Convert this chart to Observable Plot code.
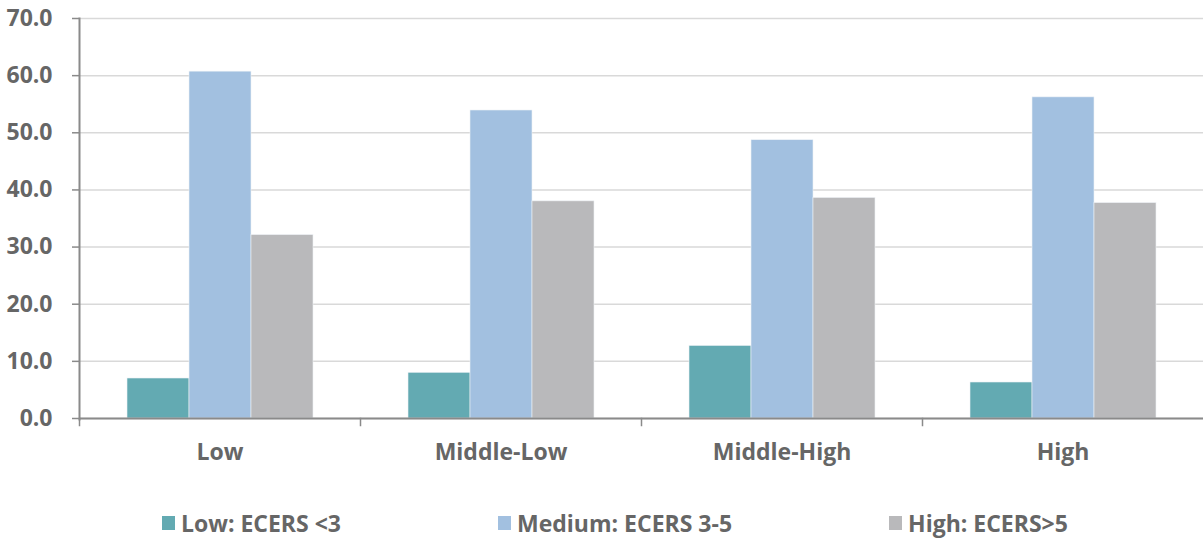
<!DOCTYPE html>
<html>
<head>
<meta charset="utf-8">
<script src="https://cdn.jsdelivr.net/npm/d3@7"></script>
<script src="https://cdn.jsdelivr.net/npm/@observablehq/plot@0.6"></script>
<style>
  html, body { margin: 0; padding: 0; background: #fff; }
  #chart { width: 1204px; }
  .legend { display: flex; gap: 157px; padding-left: 162px; height: 54px; align-items: center; padding-top: 24px; box-sizing: border-box;
            font-family: "Open Sans", Lato, sans-serif; font-weight: 700; font-size: 23px; color: #666666; }
  .legend .item { display: flex; align-items: center; white-space: nowrap; }
  .legend .sw { width: 13px; height: 14px; margin-right: 6px; display: inline-block; }
</style>
</head>
<body>
<div id="chart"></div>
<script>
const categories = ["Low", "Middle-Low", "Middle-High", "High"];
const seriesNames = ["Low: ECERS <3", "Medium: ECERS 3-5", "High: ECERS>5"];
const seriesColors = ["#63aab2", "#a2c0e0", "#b9b9bb"];
const lowValues = [7.0, 8.0, 12.7, 6.3];
const mediumValues = [60.7, 53.9, 48.7, 56.2];
const highValues = [32.1, 38.0, 38.6, 37.7];
const yTicks = [0, 10, 20, 30, 40, 50, 60, 70];

const seriesValues = [lowValues, mediumValues, highValues];
const data = [];
categories.forEach((c, i) => {
  seriesNames.forEach((s, j) => data.push({category: c, series: s, value: seriesValues[j][i]}));
});

const font = "'Open Sans', Lato, sans-serif";
const plot = Plot.plot({
  width: 1204,
  height: 484,
  marginLeft: 77,
  marginRight: 0,
  marginTop: 18,
  marginBottom: 66,
  style: {fontFamily: font, fontWeight: 700, color: "#666666", background: "#fff"},
  fx: {domain: categories, padding: 0, label: null},
  x: {domain: seriesNames, paddingInner: 0, paddingOuter: 0.75, axis: null},
  y: {domain: [0, 70], ticks: yTicks, label: null},
  color: {domain: seriesNames, range: seriesColors},
  marks: [
    Plot.gridY(yTicks, {stroke: "#d9d9d9", strokeOpacity: 1, strokeWidth: 1.5}),
    Plot.barY(data, {fx: "category", x: "series", y: "value", fill: "series", stroke: "#eef2f6", strokeWidth: 0.6}),
    Plot.ruleY([0], {stroke: "#8a8a8a", strokeWidth: 2}),
    Plot.frame({anchor: "left", facetAnchor: "left", stroke: "#8a8a8a", strokeWidth: 2, insetBottom: -1}),
    Plot.frame({anchor: "left", stroke: "#8a8a8a", strokeWidth: 1.5, insetTop: 400, insetBottom: -7}),
    Plot.axisY(yTicks, {anchor: "left", tickFormat: d3.format(".1f"), tickSize: 7, tickPadding: 20,
      fontSize: 23, stroke: "#8a8a8a", strokeWidth: 1.5, fill: "#666666"}),
    Plot.axisFx({anchor: "bottom", tickSize: 0, tickPadding: 25, fontSize: 23, fill: "#666666", label: null})
  ]
});
document.getElementById("chart").appendChild(plot);

const legend = document.createElement("div");
legend.className = "legend";
seriesNames.forEach((s, j) => {
  const item = document.createElement("div");
  item.className = "item";
  const sw = document.createElement("span");
  sw.className = "sw";
  sw.style.background = seriesColors[j];
  item.appendChild(sw);
  item.appendChild(document.createTextNode(s));
  legend.appendChild(item);
});
document.getElementById("chart").appendChild(legend);
</script>
</body>
</html>
